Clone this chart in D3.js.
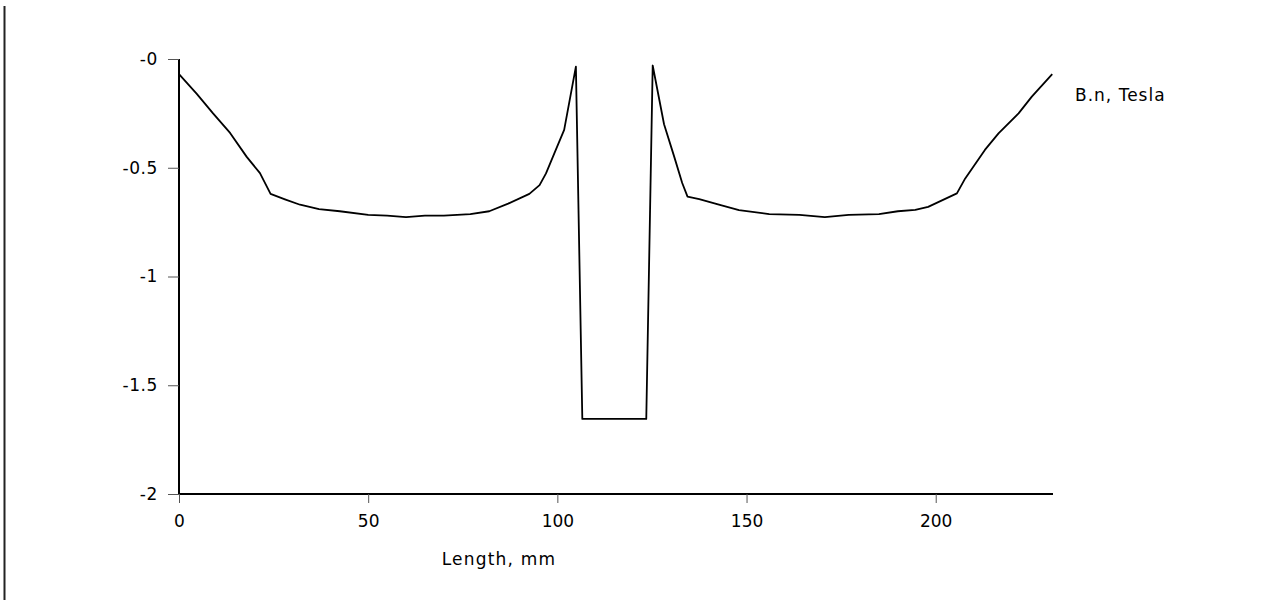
<!DOCTYPE html>
<html>
<head>
<meta charset="utf-8">
<script src="https://cdn.jsdelivr.net/npm/d3@7"></script>
<style>
  html, body { margin: 0; padding: 0; background: #fff; }
  svg text { font-family: "DejaVu Sans", Verdana, sans-serif; font-size: 17px; fill: #000; }
</style>
</head>
<body>
<svg id="chart" width="1287" height="600"></svg>
<script>
// Data
const lengthMm = [0, 4.7, 9, 13.5, 17.9, 21.4, 24.2, 28, 32, 37, 42.5, 50, 55, 60, 65, 70, 77, 82, 87, 92.6, 95.3, 97, 99.2, 101.8, 104.9, 106.6, 123.5, 125.2, 128.2, 130.9, 133, 134.4, 137.5, 142.7, 148, 156, 164, 170.7, 177, 185, 190, 194.6, 198, 205.6, 207.8, 213, 216.6, 221.9, 225.4, 230.8];
const bnTesla = [-0.07, -0.16, -0.25, -0.34, -0.45, -0.525, -0.62, -0.645, -0.67, -0.69, -0.70, -0.717, -0.72, -0.727, -0.72, -0.72, -0.713, -0.70, -0.665, -0.62, -0.58, -0.526, -0.434, -0.326, -0.035, -1.655, -1.655, -0.03, -0.30, -0.45, -0.57, -0.633, -0.644, -0.67, -0.695, -0.713, -0.717, -0.727, -0.717, -0.713, -0.70, -0.694, -0.68, -0.618, -0.549, -0.418, -0.342, -0.25, -0.173, -0.07];
const xTicks = [0, 50, 100, 150, 200];
const yTicks = [0, -0.5, -1, -1.5, -2];
const yTickLabels = ["-0", "-0.5", "-1", "-1.5", "-2"];
const xTitle = "Length, mm";
const seriesName = "B.n, Tesla";

const svg = d3.select("#chart");

// frame line on the left
svg.append("line").attr("x1", 4.5).attr("x2", 4.5).attr("y1", 6).attr("y2", 600)
  .attr("stroke", "#222").attr("stroke-width", 2);

const x = d3.scaleLinear().domain([0, 231]).range([179, 1053]);
const y = d3.scaleLinear().domain([-2, 0]).range([494, 59]);

// Y axis
const yAxis = svg.append("g").attr("transform", "translate(179,0)")
  .call(d3.axisLeft(y).tickValues(yTicks).tickSize(11).tickPadding(10)
    .tickFormat((d, i) => yTickLabels[i]));
yAxis.select(".domain").attr("d", `M0,${y(0)}V${y(-2)}`).attr("stroke", "#000").attr("stroke-width", 2);
yAxis.selectAll(".tick line").attr("stroke", "#555");
yAxis.selectAll("text").attr("font-size", 17).attr("font-family", null).attr("letter-spacing", 0.6);

// X axis
const xAxis = svg.append("g").attr("transform", `translate(0,${y(-2)})`)
  .call(d3.axisBottom(x).tickValues(xTicks).tickSize(9).tickPadding(12));
xAxis.select(".domain").attr("d", `M${x(0)},0H${x(231)}`).attr("stroke", "#000").attr("stroke-width", 2);
xAxis.selectAll(".tick line").attr("stroke", "#555");
xAxis.selectAll("text").attr("font-size", 17).attr("font-family", null);

// Curve
const line = d3.line().x((d, i) => x(lengthMm[i])).y(d => y(d));
svg.append("path").datum(bnTesla).attr("d", line)
  .attr("fill", "none").attr("stroke", "#000").attr("stroke-width", 1.8)
  .attr("stroke-linejoin", "round");

// Titles
svg.append("text").attr("x", 499).attr("y", 565).attr("text-anchor", "middle")
  .attr("letter-spacing", 1.2).text(xTitle);
svg.append("text").attr("x", 1075).attr("y", 101).attr("letter-spacing", 1).text(seriesName);
</script>
</body>
</html>
